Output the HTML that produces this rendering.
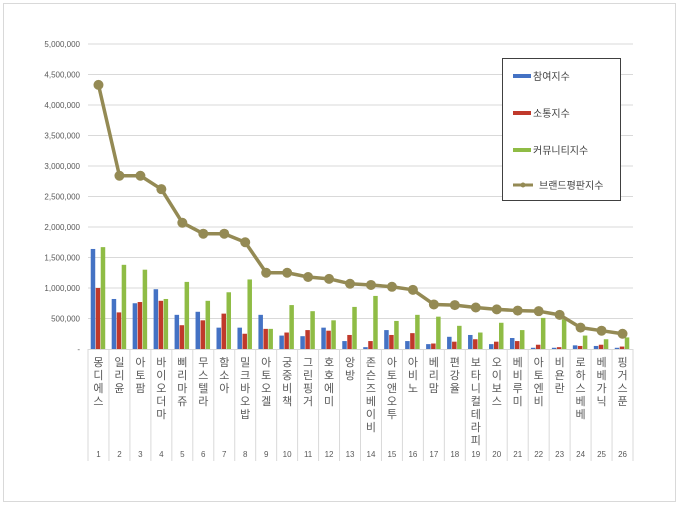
<!DOCTYPE html>
<html><head><meta charset="utf-8"><style>
body{margin:0;background:#fff}
svg text{font-family:"Liberation Sans","Noto Sans CJK KR",sans-serif}
</style></head><body>
<svg width="680" height="506" xmlns="http://www.w3.org/2000/svg">
<rect x="3.5" y="3.5" width="672" height="498" fill="#fff" stroke="#d9d9d9"/>
<g id="grid"></g><g id="bars"></g><g id="line"></g><g id="xaxis"></g>
<g>
<rect x="502.5" y="58.5" width="118" height="142" fill="#fff" stroke="#404040"/>
<rect x="513" y="74" width="18" height="4" fill="#4472c4"/>
<text x="533" y="80" font-size="10" fill="#404040">참여지수</text>
<rect x="513" y="111" width="18" height="4" fill="#c0392b"/>
<text x="533" y="117" font-size="10" fill="#404040">소통지수</text>
<rect x="513" y="148" width="18" height="4" fill="#8fbc45"/>
<text x="533" y="154" font-size="10" fill="#404040">커뮤니티지수</text>
<line x1="513" y1="185" x2="533" y2="185" stroke="#948a54" stroke-width="3"/>
<circle cx="523" cy="185" r="2.5" fill="#948a54"/>
<text x="539" y="189" font-size="10" fill="#404040">브랜드평판지수</text>
</g>
</svg>
<script>
const categories=["몽디에스","일리윤","아토팜","바이오더마","삐리마쥬","무스텔라","함소아","밀크바오밥","아토오겔","궁중비책","그린핑거","호호에미","앙방","존슨즈베이비","아토앤오투","아비노","베리맘","편강율","보타니컬테라피","오이보스","베비루미","아토엔비","비욘란","로하스베베","베베가닉","핑거스푼"];
const participation=[1640000,820000,750000,980000,560000,610000,350000,350000,560000,220000,210000,350000,130000,30000,310000,130000,80000,200000,230000,80000,180000,20000,20000,60000,50000,20000];
const communication=[1000000,600000,770000,790000,390000,470000,580000,250000,330000,270000,310000,300000,230000,130000,230000,260000,90000,120000,160000,120000,130000,70000,30000,50000,70000,40000];
const community=[1670000,1380000,1300000,820000,1100000,790000,930000,1140000,330000,720000,620000,470000,690000,870000,460000,560000,530000,380000,270000,430000,310000,510000,490000,220000,160000,190000];
const brand=[4330000,2840000,2840000,2620000,2070000,1890000,1890000,1750000,1250000,1250000,1180000,1150000,1070000,1050000,1020000,970000,730000,720000,680000,650000,630000,620000,560000,350000,300000,250000];
const yTicks=[0,500000,1000000,1500000,2000000,2500000,3000000,3500000,4000000,4500000,5000000];
const NS="http://www.w3.org/2000/svg";
const x0=88,x1=633,yb=349,yt=44,yMax=5000000;
const bw=(x1-x0)/categories.length;
const y=v=>yb-(v/yMax)*(yb-yt);
const xc=i=>x0+bw*(i+0.5);
function mk(tag,attrs,parent){const e=document.createElementNS(NS,tag);for(const k in attrs)e.setAttribute(k,attrs[k]);parent.appendChild(e);return e;}
const grid=document.getElementById('grid');
yTicks.forEach(t=>{
 if(t>0){const l=mk('line',{x1:x0,x2:x1,y1:y(t),y2:y(t),stroke:'#d9d9d9'},grid);
 
 }
 const tx=mk('text',{x:80,y:y(t)+3,'font-size':'8','text-anchor':'end',fill:'#595959'},grid);
 tx.textContent=t===0?'-':t.toLocaleString('en-US');
 
 
});
const bars=document.getElementById('bars');
const series=[[participation,'#4472c4','bar-participation'],[communication,'#c0392b','bar-communication'],[community,'#8fbc45','bar-community']];
const sw=4.5;
categories.forEach((c,i)=>{
 series.forEach((s,j)=>{
  const v=s[0][i];
  const r=mk('rect',{x:xc(i)+(j-1.5)*sw-0.5+ (j-1)*0.5,y:y(v),width:sw,height:yb-y(v),fill:s[1]},bars);
  
  
 });
});
const lg=document.getElementById('line');
const pts=brand.map((v,i)=>xc(i)+','+y(v)).join(' ');
const pl=mk('polyline',{points:pts,fill:'none',stroke:'#948a54','stroke-width':'3.5','stroke-linejoin':'round'},lg);


brand.forEach((v,i)=>{
 const p=mk('circle',{cx:xc(i),cy:y(v),r:5,fill:'#948a54'},lg);
 
 
});
const xa=document.getElementById('xaxis');
const ax=mk('line',{x1:x0,x2:x1,y1:yb+0.5,y2:yb+0.5,stroke:'#d9d9d9'},xa);


for(let i=0;i<=categories.length;i++){
 const l=mk('line',{x1:x0+bw*i,x2:x0+bw*i,y1:yb,y2:461,stroke:'#d9d9d9'},xa);
 
 
}
categories.forEach((c,i)=>{
 const t=mk('text',{'font-size':'11',fill:'#595959','text-anchor':'middle'},xa);
 
 
 [...c].forEach((ch,k)=>{const s=mk('tspan',{x:xc(i),y:366+k*13},t);s.textContent=ch;});
 const n=mk('text',{x:xc(i),y:457,'font-size':'8','text-anchor':'middle',fill:'#595959'},xa);
 n.textContent=String(i+1);
 
 
});
</script>
</body></html>
